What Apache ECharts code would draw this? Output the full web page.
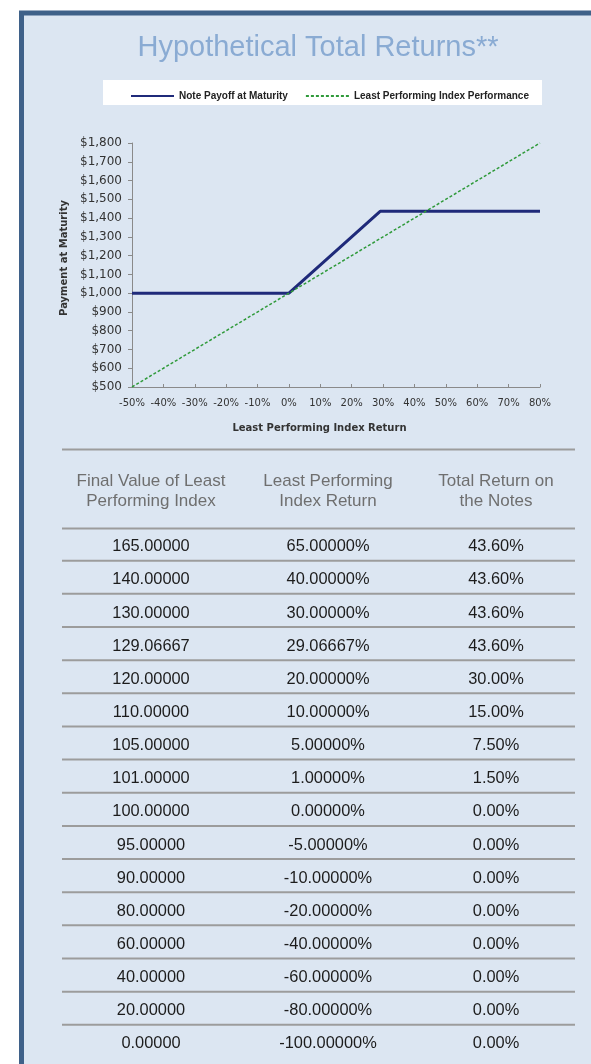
<!DOCTYPE html>
<html>
<head>
<meta charset="utf-8">
<script src="https://cdn.jsdelivr.net/npm/echarts@6/dist/echarts.min.js"></script>
<style>
html,body{margin:0;padding:0;background:#ffffff;}
#chart{width:591px;height:1064px;}
</style>
</head>
<body>
<div id="chart"></div>
<script>
// ---- chart data ----
var titleText = 'Hypothetical Total Returns**';
var seriesNames = ['Note Payoff at Maturity', 'Least Performing Index Performance'];
var noteReturnX = [-50, 0, 29.06667, 80];           // % index return
var notePayoff = [1000, 1000, 1436, 1436];          // $ payment
var indexReturnX = [-50, 80];
var indexPayoff = [500, 1800];
var xAxisTitle = 'Least Performing Index Return';
var yAxisTitle = 'Payment at Maturity';

// ---- table data ----
var tableHeaders = [
  ['Final Value of Least', 'Performing Index'],
  ['Least Performing', 'Index Return'],
  ['Total Return on', 'the Notes']
];
var finalValues = ['165.00000','140.00000','130.00000','129.06667','120.00000','110.00000','105.00000','101.00000','100.00000','95.00000','90.00000','80.00000','60.00000','40.00000','20.00000','0.00000'];
var indexReturns = ['65.00000%','40.00000%','30.00000%','29.06667%','20.00000%','10.00000%','5.00000%','1.00000%','0.00000%','-5.00000%','-10.00000%','-20.00000%','-40.00000%','-60.00000%','-80.00000%','-100.00000%'];
var noteReturns = ['43.60%','43.60%','43.60%','43.60%','30.00%','15.00%','7.50%','1.50%','0.00%','0.00%','0.00%','0.00%','0.00%','0.00%','0.00%','0.00%'];

function zip(a, b) { return a.map(function (v, i) { return [v, b[i]]; }); }

// ---- layout (positions only) ----
var colX = [151, 328, 496];
var lineX1 = 62, lineX2 = 575;
var topRuleY = 449.5, headerRuleY = 528.5;
var headerY = [481, 501];
var firstRowY = 546.7, rowH = 33.15;
var ruleColor = '#9c9c9c';

var graphics = [];
// frame
graphics.push({type:'rect', z:-10, shape:{x:21.5, y:13, width:640, height:1120},
  style:{fill:'#dce6f2', stroke:'#3f6189', lineWidth:5}});
// legend white box
graphics.push({type:'rect', z:-5, shape:{x:103, y:80, width:439, height:25},
  style:{fill:'#ffffff'}});
// table rules
function rule(y) {
  graphics.push({type:'line', z:-5, shape:{x1:lineX1, y1:y, x2:lineX2, y2:y},
    style:{stroke:ruleColor, lineWidth:2}});
}
rule(topRuleY);
rule(headerRuleY);
for (var i = 0; i < finalValues.length - 1; i++) rule(firstRowY + 14 + i * rowH);
// header text
tableHeaders.forEach(function (h, c) {
  h.forEach(function (t, k) {
    graphics.push({type:'text', z:-4, x:colX[c], y:headerY[k],
      style:{text:t, fill:'#6f6f6f', font:'17px "Liberation Sans", Arial, sans-serif',
        textAlign:'center', textVerticalAlign:'middle'}});
  });
});
// rows
[finalValues, indexReturns, noteReturns].forEach(function (col, c) {
  col.forEach(function (t, r) {
    graphics.push({type:'text', z:-4, x:colX[c], y:firstRowY + r * rowH,
      style:{text:t, fill:'#1c1c1c', font:'16.4px "Liberation Sans", Arial, sans-serif',
        textAlign:'center', textVerticalAlign:'middle'}});
  });
});

var chart = echarts.init(document.getElementById('chart'), null, {renderer:'canvas'});
chart.setOption({
  animation:false,
  backgroundColor:'#ffffff',
  title:{
    text:titleText, left:313, top:28, textAlign:'center',
    textStyle:{color:'#8aabd3', fontSize:29, fontWeight:'normal', fontFamily:'"Liberation Sans", Arial, sans-serif'}
  },
  legend:{
    left:125, top:86, itemWidth:43, itemHeight:12, itemGap:17,
    data:seriesNames,
    itemStyle:{opacity:0},
    textStyle:{fontSize:10, fontWeight:'bold', color:'#222', fontFamily:'"Liberation Sans", Arial, sans-serif'}
  },
  grid:{left:132, right:51, top:143, bottom:677, containLabel:false},
  xAxis:{
    type:'value', min:-50, max:80, interval:10,
    name:xAxisTitle, nameLocation:'middle', nameGap:36,
    nameTextStyle:{fontSize:10, fontWeight:'bold', color:'#333', fontFamily:'"DejaVu Sans", sans-serif', padding:[0,33,0,0]},
    axisLine:{lineStyle:{color:'#8a8a8a', width:1}},
    axisTick:{inside:true, length:3, lineStyle:{color:'#8a8a8a'}},
    axisLabel:{formatter:function(v){return v + '%';}, fontSize:10, color:'#333', margin:11, fontFamily:'"DejaVu Sans", sans-serif'},
    splitLine:{show:false}
  },
  yAxis:{
    type:'value', min:500, max:1800, interval:100,
    name:yAxisTitle, nameLocation:'middle', nameGap:62, nameRotate:90,
    nameTextStyle:{fontSize:10, fontWeight:'bold', color:'#333', fontFamily:'"DejaVu Sans", sans-serif', padding:[0,0,0,14]},
    axisLine:{show:true, onZero:false, lineStyle:{color:'#8a8a8a', width:1}},
    axisTick:{show:true, inside:false, length:4, lineStyle:{color:'#8a8a8a'}},
    axisLabel:{formatter:function(v){return '$' + v.toLocaleString('en-US');}, fontSize:12, color:'#333', margin:10, fontFamily:'"DejaVu Sans", sans-serif'},
    splitLine:{show:false}
  },
  series:[
    {name:seriesNames[0], type:'line', data:zip(noteReturnX, notePayoff), symbol:'none',
      lineStyle:{color:'#1f2a7a', width:3}, itemStyle:{color:'#1f2a7a'}, z:3},
    {name:seriesNames[1], type:'line', data:zip(indexReturnX, indexPayoff), symbol:'none',
      lineStyle:{color:'#2f9a3a', width:1.5, type:[3,2]}, itemStyle:{color:'#2f9a3a'}, z:4}
  ],
  graphic:{elements:graphics}
});
</script>
</body>
</html>
